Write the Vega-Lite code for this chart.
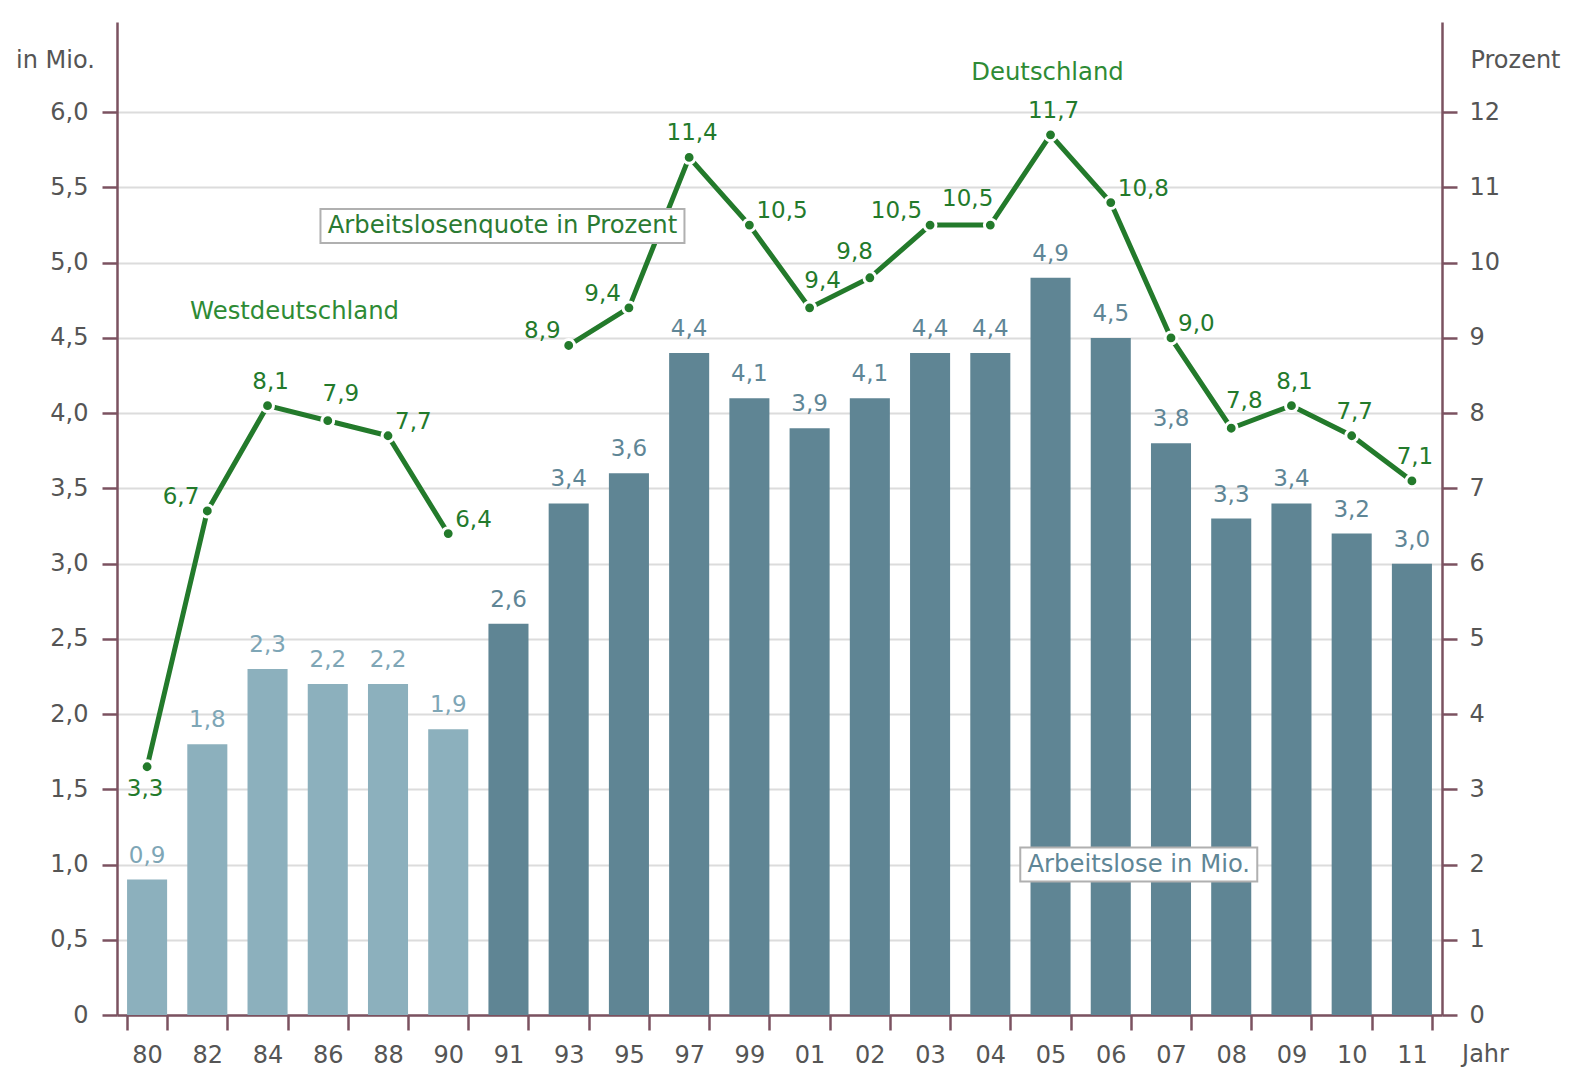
{
  "$schema": "https://vega.github.io/schema/vega-lite/v6.json",
  "autosize": {"type": "none"},
  "padding": {"left": 117, "top": 22, "right": 129, "bottom": 54},
  "width": 1325,
  "height": 993,
  "background": "white",
  "data": {"values": [
    {"jahr": "80", "mio": 0.9, "quote": 3.3, "gebiet": "West"},
    {"jahr": "82", "mio": 1.8, "quote": 6.7, "gebiet": "West"},
    {"jahr": "84", "mio": 2.3, "quote": 8.1, "gebiet": "West"},
    {"jahr": "86", "mio": 2.2, "quote": 7.9, "gebiet": "West"},
    {"jahr": "88", "mio": 2.2, "quote": 7.7, "gebiet": "West"},
    {"jahr": "90", "mio": 1.9, "quote": 6.4, "gebiet": "West"},
    {"jahr": "91", "mio": 2.6, "quote": null, "gebiet": "Gesamt"},
    {"jahr": "93", "mio": 3.4, "quote": 8.9, "gebiet": "Gesamt"},
    {"jahr": "95", "mio": 3.6, "quote": 9.4, "gebiet": "Gesamt"},
    {"jahr": "97", "mio": 4.4, "quote": 11.4, "gebiet": "Gesamt"},
    {"jahr": "99", "mio": 4.1, "quote": 10.5, "gebiet": "Gesamt"},
    {"jahr": "01", "mio": 3.9, "quote": 9.4, "gebiet": "Gesamt"},
    {"jahr": "02", "mio": 4.1, "quote": 9.8, "gebiet": "Gesamt"},
    {"jahr": "03", "mio": 4.4, "quote": 10.5, "gebiet": "Gesamt"},
    {"jahr": "04", "mio": 4.4, "quote": 10.5, "gebiet": "Gesamt"},
    {"jahr": "05", "mio": 4.9, "quote": 11.7, "gebiet": "Gesamt"},
    {"jahr": "06", "mio": 4.5, "quote": 10.8, "gebiet": "Gesamt"},
    {"jahr": "07", "mio": 3.8, "quote": 9.0, "gebiet": "Gesamt"},
    {"jahr": "08", "mio": 3.3, "quote": 7.8, "gebiet": "Gesamt"},
    {"jahr": "09", "mio": 3.4, "quote": 8.1, "gebiet": "Gesamt"},
    {"jahr": "10", "mio": 3.2, "quote": 7.7, "gebiet": "Gesamt"},
    {"jahr": "11", "mio": 3.0, "quote": 7.1, "gebiet": "Gesamt"}
  ]},
  "transform": [
    {"calculate": "isValid(datum.mio) ? replace(format(datum.mio, '.1f'), '.', ',') : ''", "as": "mioLabel"},
    {"calculate": "isValid(datum.quote) ? replace(format(datum.quote, '.1f'), '.', ',') : ''", "as": "quoteLabel"}
  ],
  "layer": [
    {
      "layer": [
        {
          "mark": {"type": "bar"},
          "encoding": {
            "x": {"field": "jahr", "type": "ordinal", "title": "Jahr",
                  "scale": {"domain": ["80","82","84","86","88","90","91","93","95","97","99","01","02","03","04","05","06","07","08","09","10","11"], "paddingInner": 0.335, "paddingOuter": 0.167},
                  "axis": {"orient": "bottom", "tickBand": "extent", "labelAngle": 0, "labelPadding": 13, "titleX": 1368, "titleY": 39, "titleAlign": "center", "titleBaseline": "middle", "titleAngle": 0}},
            "y": {"field": "mio", "type": "quantitative", "title": "in Mio.",
                  "scale": {"domain": [0, 6.6], "nice": false, "zero": true},
                  "axis": {"orient": "left", "values": [0,0.5,1,1.5,2,2.5,3,3.5,4,4.5,5,5.5,6], "grid": true,
                           "labelExpr": "datum.value == 0 ? '0' : replace(format(datum.value, '.1f'), '.', ',')",
                           "labelPadding": 14, "titleAngle": 0, "titleX": -62, "titleY": 38, "titleAlign": "center", "titleBaseline": "middle"}},
            "color": {"condition": {"test": "datum.gebiet == 'West'", "value": "#8cb0bd"}, "value": "#5f8594"}
          }
        },
        {
          "mark": {"type": "text", "baseline": "middle", "align": "center", "dy": -24, "fontSize": 23},
          "encoding": {
            "x": {"field": "jahr", "type": "ordinal", "title": "Jahr"},
            "y": {"field": "mio", "type": "quantitative", "title": "in Mio."},
            "text": {"field": "mioLabel"},
            "color": {"condition": {"test": "datum.gebiet == 'West'", "value": "#7ea6b6"}, "value": "#5f8696"}
          }
        },
        {
          "data": {"values": [{}]},
          "mark": {"type": "point", "shape": "M-1,-0.1435 L1,-0.1435 L1,0.1435 L-1,0.1435 Z", "size": 56169, "filled": false, "fill": "white", "fillOpacity": 1, "stroke": "#b0b0b0", "strokeWidth": 2, "opacity": 1, "xOffset": 28},
          "encoding": {
            "x": {"datum": "06", "type": "ordinal"},
            "y": {"datum": 1.0, "type": "quantitative"}
          }
        },
        {
          "data": {"values": [{}]},
          "mark": {"type": "text", "text": "Arbeitslose in Mio.", "fontSize": 24.3, "color": "#5f8696", "align": "center", "baseline": "middle", "dx": 28},
          "encoding": {
            "x": {"datum": "06", "type": "ordinal"},
            "y": {"datum": 1.0, "type": "quantitative"}
          }
        },
        {
          "data": {"values": [{}]},
          "mark": {"type": "text", "text": "Westdeutschland", "fontSize": 24.3, "color": "#2e8b35", "align": "center", "baseline": "middle", "dx": 27},
          "encoding": {
            "x": {"datum": "84", "type": "ordinal"},
            "y": {"datum": 4.67, "type": "quantitative"}
          }
        },
        {
          "data": {"values": [{}]},
          "mark": {"type": "text", "text": "Deutschland", "fontSize": 24.3, "color": "#2e8b35", "align": "center", "baseline": "middle", "dx": -3},
          "encoding": {
            "x": {"datum": "05", "type": "ordinal"},
            "y": {"datum": 6.26, "type": "quantitative"}
          }
        }
      ]
    },
    {
      "encoding": {
        "x": {"field": "jahr", "type": "ordinal", "title": "Jahr"},
        "y": {"field": "quote", "type": "quantitative", "title": "Prozent",
              "scale": {"domain": [0, 13.2], "nice": false, "zero": true},
              "axis": {"orient": "right", "values": [0,1,2,3,4,5,6,7,8,9,10,11,12], "grid": false, "labelPadding": 12,
                       "titleAngle": 0, "titleX": 73, "titleY": 38, "titleAlign": "center", "titleBaseline": "middle"}}
      },
      "layer": [
        {
          "transform": [{"filter": "isValid(datum.quote)"}],
          "mark": {"type": "line", "color": "#237a2b", "strokeWidth": 5},
          "encoding": {"detail": {"field": "gebiet"}}
        },
        {
          "transform": [{"filter": "isValid(datum.quote)"}],
          "mark": {"type": "point", "filled": true, "shape": "circle", "size": 140, "fill": "#237a2b", "stroke": "white", "strokeWidth": 3, "opacity": 1},
          "encoding": {}
        },
        {
          "transform": [{"filter": {"field": "jahr", "oneOf": ["84", "97", "05", "09", "11", "10"]}}],
          "mark": {"type": "text", "align": "center", "baseline": "middle", "dx": 3, "dy": -24, "fontSize": 23, "color": "#237a2b"},
          "encoding": {"text": {"field": "quoteLabel"}}
        },
        {
          "transform": [{"filter": {"field": "jahr", "oneOf": ["86", "01", "08"]}}],
          "mark": {"type": "text", "align": "center", "baseline": "middle", "dx": 13, "dy": -27, "fontSize": 23, "color": "#237a2b"},
          "encoding": {"text": {"field": "quoteLabel"}}
        },
        {
          "transform": [{"filter": {"field": "jahr", "oneOf": ["02", "04"]}}],
          "mark": {"type": "text", "align": "right", "baseline": "middle", "dx": 3, "dy": -26, "fontSize": 23, "color": "#237a2b"},
          "encoding": {"text": {"field": "quoteLabel"}}
        },
        {
          "transform": [{"filter": {"field": "jahr", "oneOf": ["82", "93", "95", "03"]}}],
          "mark": {"type": "text", "align": "right", "baseline": "middle", "dx": -8, "dy": -14, "fontSize": 23, "color": "#237a2b"},
          "encoding": {"text": {"field": "quoteLabel"}}
        },
        {
          "transform": [{"filter": {"field": "jahr", "oneOf": ["88", "90", "99", "06", "07"]}}],
          "mark": {"type": "text", "align": "left", "baseline": "middle", "dx": 7, "dy": -14, "fontSize": 23, "color": "#237a2b"},
          "encoding": {"text": {"field": "quoteLabel"}}
        },
        {
          "transform": [{"filter": {"field": "jahr", "oneOf": ["80"]}}],
          "mark": {"type": "text", "align": "center", "baseline": "middle", "dx": -2, "dy": 22, "fontSize": 23, "color": "#237a2b"},
          "encoding": {"text": {"field": "quoteLabel"}}
        }
      ]
    },
    {
      "data": {"values": [{"label": "Arbeitslosenquote in Prozent"}]},
      "encoding": {
        "x": {"datum": "91", "type": "ordinal"},
        "y": {"datum": 5.244, "type": "quantitative", "scale": {"domain": [0, 6.6], "nice": false, "zero": true}, "axis": null}
      },
      "layer": [
        {
          "mark": {"type": "point", "shape": "M-1,-0.0934 L1,-0.0934 L1,0.0934 L-1,0.0934 Z", "size": 132496, "filled": false, "fill": "white", "fillOpacity": 1, "stroke": "#b0b0b0", "strokeWidth": 2, "opacity": 1, "xOffset": -6}
        },
        {
          "mark": {"type": "text", "fontSize": 24.3, "color": "#2a7a32", "align": "center", "baseline": "middle", "dx": -6},
          "encoding": {"text": {"field": "label"}}
        }
      ]
    }
  ],
  "resolve": {"scale": {"y": "independent"}},
  "config": {
    "font": "DejaVu Sans",
    "view": {"stroke": null},
    "axis": {
      "domainColor": "#7b5260", "tickColor": "#7b5260", "domainWidth": 2.5, "tickWidth": 2.5, "tickSize": 15,
      "labelColor": "#555555", "labelFontSize": 24, "titleColor": "#555555", "titleFontSize": 24, "titleFontWeight": "normal",
      "gridColor": "#dcdcdc", "gridWidth": 2
    }
  }
}
